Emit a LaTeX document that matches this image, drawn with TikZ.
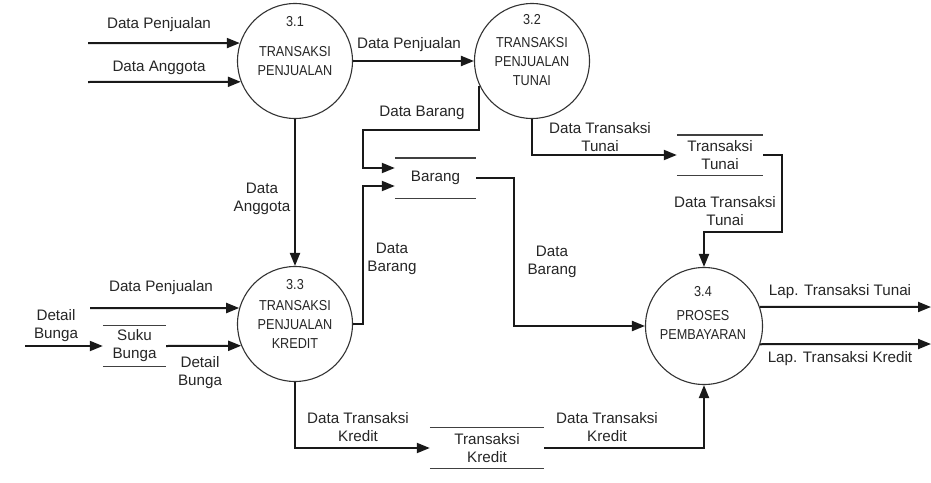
\documentclass[tikz,border=0pt]{standalone}
\usepackage{fontspec}
\setmainfont{Liberation Sans}
\newfontfamily\procfont[FakeStretch=0.88]{Liberation Sans}
\usetikzlibrary{arrows.meta}
\begin{document}
\begin{tikzpicture}[x=1pt,y=-1pt,
  flow/.style={line width=2pt,draw=black!90,-{Triangle[length=13pt,width=10pt]}},
  proc/.style={circle,draw=black!80,line width=1.1pt,minimum size=115pt,inner sep=0pt},
  lbl/.style={font=\fontsize{15.2}{18}\selectfont,align=center,inner sep=0pt,text=black!85},
  ptxt/.style={font=\procfont\fontsize{14.4}{19}\selectfont,align=center,inner sep=0pt,text=black!85},
  store/.style={font=\fontsize{15.2}{18}\selectfont,align=center,inner sep=0pt,text=black!85},
  storeline/.style={line width=1.4pt,draw=black!75}]
\useasboundingbox[fill=white] (0,0) rectangle (931,482);

% processes
\node[proc] (p31) at (295,61) {};
\node[proc] (p32) at (532,61) {};
\node[proc] (p33) at (295,324) {};
\node[proc, minimum size=117pt] (p34) at (704,326) {};

\node[ptxt] (n31) at (295,22) {3.1};
\node[ptxt] (t31) at (295,61.5) {TRANSAKSI\\PENJUALAN};
\node[ptxt] (n32) at (532,20) {3.2};
\node[ptxt] (t32) at (532,61.5) {TRANSAKSI\\PENJUALAN\\TUNAI};
\node[ptxt] (n33) at (295,285) {3.3};
\node[ptxt] (t33) at (295,324.5) {TRANSAKSI\\PENJUALAN\\KREDIT};
\node[ptxt] (n34) at (703,292) {3.4};
\node[ptxt] (t34) at (703,325) {PROSES\\PEMBAYARAN};

% data stores
\node[store, minimum width=81pt, minimum height=40pt] (barang) at (435.5,178) {Barang};
\node[store, minimum width=86pt, minimum height=40pt] (tunai) at (720,155) {Transaksi\\Tunai};
\node[store, minimum width=114pt, minimum height=41pt] (kredit) at (487,448) {Transaksi\\Kredit};
\node[store, minimum width=63pt, minimum height=41pt] (suku) at (134.5,346) {Suku\\Bunga};
\foreach \s in {barang,tunai,kredit,suku}{
  \draw[storeline] (\s.north west) -- (\s.north east);
  \draw[storeline] (\s.south west) -- (\s.south east);
}

% external ends
\coordinate (inDP) at (88,43);
\coordinate (inDA) at (88,82);
\coordinate (inDP3) at (90,308);
\coordinate (inDB) at (25,346);
\coordinate (outT) at (931,307);
\coordinate (outK) at (931,344);

% flows
\draw[flow] (inDP) -- (p31.162);
\draw[flow] (inDA) -- (p31.201);
\draw[flow] (p31.east) -- (p32.west);
\draw[flow] (p31.south) -- (p33.north);
\draw[flow] (p32.205) -- (p32.205 |- 0,130) -- (363,130) -- (363,168) -- (barang.west |- 0,168);
\draw[flow] (p33.east) -- (363,324) -- (363,186) -- (barang.west |- 0,186);
\draw[flow] (barang.east) -- (514,178) -- (514,326) -- (p34.west);
\draw[flow] (p32.south) -- (p32.south |- tunai.west) -- (tunai.west);
\draw[flow] (tunai.east) -- (782,155) -- (782,232) -- (p34.north |- 0,232) -- (p34.north);
\draw[flow] (p34.19) -- (outT);
\draw[flow] (p34.-18) -- (outK);
\draw[flow] (p33.south) -- (p33.south |- kredit.west) -- (kredit.west);
\draw[flow] (kredit.east) -- (p34.south |- kredit.east) -- (p34.south);
\draw[flow] (inDP3) -- (p33.164);
\draw[flow] (inDB) -- (suku.west);
\draw[flow] (suku.east) -- (p33.202);

% flow labels
\node[lbl] (l1) at (159,25) {Data Penjualan};
\node[lbl] (l2) at (159,68) {Data Anggota};
\node[lbl] (l3) at (409,45) {Data Penjualan};
\node[lbl] (l4) at (262,199) {Data\\Anggota};
\node[lbl] (l5) at (422,113) {Data Barang};
\node[lbl] (l6) at (392,258.5) {Data\\Barang};
\node[lbl] (l7) at (600,137.5) {Data Transaksi\\Tunai};
\node[lbl] (l8) at (725,211.5) {Data Transaksi\\Tunai};
\node[lbl] (l9) at (552,262) {Data\\Barang};
\node[lbl] (l10) at (840,292) {Lap. Transaksi Tunai};
\node[lbl] (l11) at (840,359) {Lap. Transaksi Kredit};
\node[lbl] (l12) at (161,288) {Data Penjualan};
\node[lbl] (l13) at (56,325.5) {Detail\\Bunga};
\node[lbl] (l14) at (200,372.5) {Detail\\Bunga};
\node[lbl] (l15) at (358,427) {Data Transaksi\\Kredit};
\node[lbl] (l16) at (607,427) {Data Transaksi\\Kredit};
\end{tikzpicture}
\end{document}
